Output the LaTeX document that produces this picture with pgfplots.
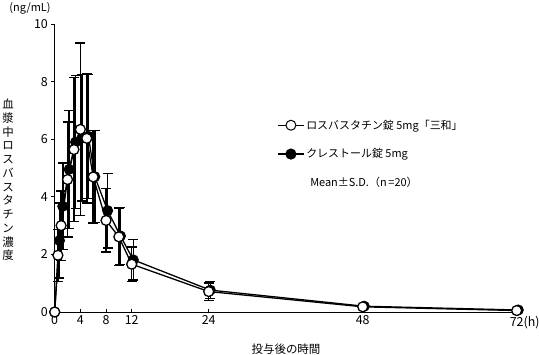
\documentclass[border=0pt]{standalone}
\usepackage{fontspec}
\setmainfont{Noto Sans CJK JP}
\usepackage{pgfplots}
\usepackage{pgfplotstable}
\pgfplotsset{compat=1.18}

\pgfplotstableread{
t y e
0 0 0
0.5 1.97 0.9
1 3.00 1.2
2 4.60 2.0
3 5.64 2.5
4 6.34 3.0
5 6.03 2.25
6 4.69 1.6
8 3.18 1.1
10 2.61 1.0
12 1.66 0.6
24 0.71 0.3
48 0.18 0.06
72 0.05 0.03
}\testdata

\pgfplotstableread{
t y e
0 0 0
0.75 2.48 1.3
1.25 3.67 1.5
2.25 4.95 2.05
3.25 5.90 2.3
4.25 6.05 2.2
5.25 6.10 2.15
6.25 4.70 1.6
8.25 3.52 1.3
10.25 2.64 1.0
12.25 1.81 0.7
24.25 0.76 0.3
48.25 0.20 0.06
72.25 0.07 0.03
}\refdata

\begin{document}
\fontsize{11}{13}\selectfont
\begin{tikzpicture}
\useasboundingbox (-54.7bp,-43bp) rectangle (484.3bp,312bp);
\begin{axis}[
  scale only axis, width=462bp, height=288bp,
  xmin=0, xmax=72, ymin=0, ymax=10,
  axis x line*=bottom, axis y line*=left,
  axis line style={line width=0.8pt},
  clip=false,
  xtick={0,4,8,12,24,48,72},
  xticklabels={0,4,8,12,24,48,72\rlap{(h)}},
  ytick={0,2,4,6,8,10},
  major tick length=3.5pt,
  ytick style={xshift=-3.5pt},
  tick style={line width=0.8pt, black},
  /pgf/number format/assume math mode=true,
  tick label style={font=\fontsize{12.5}{14}\selectfont},
  yticklabel style={xshift=-3pt},
  legend style={draw=none, fill=none, at={(rel axis cs:0.482,0.675)}, anchor=north west,
    font=\fontsize{11}{13}\selectfont, row sep=14pt, inner sep=0pt},
  legend cell align=left,
  legend image code/.code={\draw[mark repeat=2,mark phase=2,line width=1.2pt] plot coordinates {(0cm,0cm) (0.45cm,0cm) (0.9cm,0cm)};},
]
\addplot[forget plot, black, line width=1.3pt, mark=*, mark size=5pt, mark options={fill=black, line width=1pt},
  error bars/.cd, y dir=both, y explicit,
  error bar style={line width=1.6pt, black},
  error mark options={rotate=90, mark size=5pt, line width=1.3pt, black}]
  table[x=t, y=y, y error=e] {\refdata};
\addplot[forget plot, black, line width=1.3pt, mark=*, mark size=5pt, mark options={fill=white, line width=1.3pt},
  error bars/.cd, y dir=both, y explicit,
  error bar style={line width=1.6pt, black},
  error mark options={rotate=90, mark size=5pt, line width=1.3pt, black}]
  table[x=t, y=y, y error=e] {\testdata};
\addlegendimage{black, mark=*, mark size=5pt, mark options={fill=white, line width=1pt}}
\addlegendentry{ロスバスタチン錠 5mg「三和」}
\addlegendimage{black, mark=*, mark size=5pt, mark options={fill=black}}
\addlegendentry{クレストール錠 5mg}
\addlegendimage{empty legend}
\addlegendentry{\hspace*{4pt}\raisebox{-7pt}{Mean±S.D.（n\,=20）}}
\end{axis}
\node[font=\fontsize{11}{13}\selectfont] at (-24.7bp,304bp) {(ng/mL)};
\node[font=\fontsize{11.5}{13.8}\selectfont, align=center] at (-46.7bp,132bp)
  {血\\漿\\中\\ロ\\ス\\バ\\ス\\タ\\チ\\ン\\濃\\度};
\node[font=\fontsize{11.5}{13}\selectfont] at (231.3bp,-37bp) {投与後の時間};
\end{tikzpicture}
\end{document}
